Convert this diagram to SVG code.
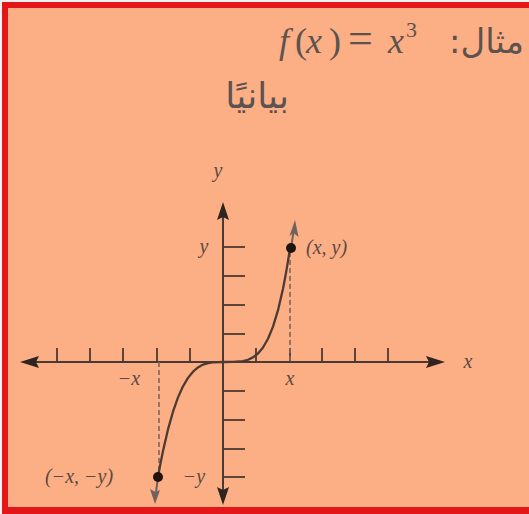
<svg xmlns="http://www.w3.org/2000/svg" width="529" height="514" viewBox="0 0 529 514">
  <style>
    .ax { stroke: #4a3a33; stroke-width: 2; fill: none; }
    .tick { stroke: #4a3a33; stroke-width: 1.8; fill: none; }
    .head { fill: #2e2420; }
    .ghead { fill: #6f625d; }
    .curve { stroke: #4d3b33; stroke-width: 2.3; fill: none; stroke-linejoin: round; }
    .dash { stroke: #7a6760; stroke-width: 1.6; stroke-dasharray: 5 3; fill: none; }
    .lbl { font-family: "Liberation Serif", serif; font-style: italic; font-size: 20px; fill: #5a4a45; }
    .ttl { font-family: "Liberation Serif", serif; fill: #5c5350; }
    .ar { font-family: "DejaVu Sans", "Noto Sans", sans-serif; fill: #5c5350; direction: rtl; }
    .border { fill: #e3161a; }
  </style>

  <rect x="0" y="0" width="529" height="514" fill="#f4f0ee"/>
  <rect x="8" y="8" width="521" height="499" fill="#fcae84"/>
  <rect class="border" x="2" y="2" width="527" height="6"/>
  <rect class="border" x="2" y="2" width="6" height="512"/>
  <rect class="border" x="2" y="507" width="527" height="7"/>

  <g id="title">
    <text class="ar" x="524" y="53" font-size="34" text-anchor="start">مثال:</text>
    <text class="ttl" y="53" font-size="36">
      <tspan x="279" font-style="italic">f</tspan><tspan x="295">(</tspan><tspan x="306" font-style="italic">x</tspan><tspan x="329">)</tspan><tspan x="348" font-size="44">=</tspan><tspan x="388" font-style="italic">x</tspan><tspan x="406" y="37" font-size="22">3</tspan>
    </text>
    <text class="ar" x="289" y="108" font-size="36" text-anchor="start">بيانيًا</text>
  </g>

  <g id="axes">
    <line class="ax" x1="34" y1="362" x2="432" y2="362"/>
    <polygon class="head" points="20,362 39,356 36,362 39,368"/>
    <polygon class="head" points="445,362 426,356 429,362 426,368"/>
    <line class="ax" x1="223" y1="215" x2="223" y2="492"/>
    <polygon class="head" points="223,202 217,220 223,217 229,220"/>
    <polygon class="head" points="223,505 217,487 223,490 229,487"/>
    <g id="x-ticks">
      <line class="tick" x1="57" y1="348" x2="57" y2="362"/>
      <line class="tick" x1="90" y1="348" x2="90" y2="362"/>
      <line class="tick" x1="123" y1="348" x2="123" y2="362"/>
      <line class="tick" x1="157" y1="348" x2="157" y2="362"/>
      <line class="tick" x1="190" y1="348" x2="190" y2="362"/>
      <line class="tick" x1="256" y1="348" x2="256" y2="362"/>
      <line class="tick" x1="290" y1="348" x2="290" y2="362"/>
      <line class="tick" x1="322" y1="348" x2="322" y2="362"/>
      <line class="tick" x1="355" y1="348" x2="355" y2="362"/>
      <line class="tick" x1="388" y1="348" x2="388" y2="362"/>
    </g>
    <g id="y-ticks">
      <line class="tick" x1="223" y1="247" x2="245" y2="247"/>
      <line class="tick" x1="223" y1="276" x2="245" y2="276"/>
      <line class="tick" x1="223" y1="305" x2="245" y2="305"/>
      <line class="tick" x1="223" y1="334" x2="245" y2="334"/>
      <line class="tick" x1="223" y1="391" x2="245" y2="391"/>
      <line class="tick" x1="223" y1="420" x2="245" y2="420"/>
      <line class="tick" x1="223" y1="449" x2="245" y2="449"/>
      <line class="tick" x1="223" y1="477" x2="245" y2="477"/>
    </g>
  </g>

  <g id="connectors">
    <line class="dash" x1="290" y1="252" x2="290" y2="362"/>
    <line class="dash" x1="159" y1="362" x2="159" y2="474"/>
    <path class="curve" d="M158,477 L160,466 L163,451 L168,429.4 L173,411.7 L178,397.4 L183,386.3 L188,377.9 L193,371.7 L198,367.4 L203,364.6 L208,363.1 L213,362.3 L223,362 L233,361.9 L243,361.1 L248,359.8 L253,357.4 L258,353.5 L263,347.5 L268,338.8 L273,326.6 L278,310.2 L283,288.7 L285,278.4 L287,267.1 L289,254.7 L290,248"/>
    <line stroke="#6f625d" stroke-width="2" x1="291" y1="248" x2="293.5" y2="232"/>
    <polygon class="ghead" points="295,220 289.5,236 293.5,233 298.5,237"/>
    <line stroke="#6f625d" stroke-width="2" x1="158" y1="477" x2="156" y2="492"/>
    <polygon class="ghead" points="155,504 150,489 155.5,492 160,490"/>
  </g>

  <g id="points">
    <circle cx="291" cy="248" r="5" fill="#1e1410"/>
    <circle cx="158" cy="477" r="5" fill="#1e1410"/>
  </g>

  <g id="labels">
    <text class="lbl" x="218" y="177" text-anchor="middle">y</text>
    <text class="lbl" x="204" y="253" text-anchor="middle">y</text>
    <text class="lbl" x="306" y="254">(x, y)</text>
    <text class="lbl" x="468" y="368" text-anchor="middle">x</text>
    <text class="lbl" x="129" y="385" text-anchor="middle">−x</text>
    <text class="lbl" x="290" y="385" text-anchor="middle">x</text>
    <text class="lbl" x="45" y="483">(−x, −y)</text>
    <text class="lbl" x="194" y="483" text-anchor="middle">−y</text>
  </g>
</svg>
